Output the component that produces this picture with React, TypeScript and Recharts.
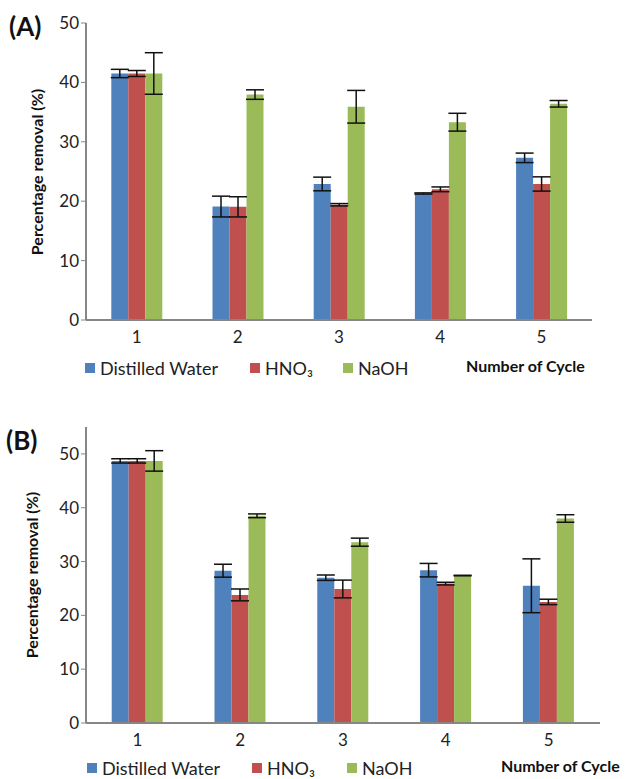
import React from 'react';
import { BarChart, Bar, XAxis, YAxis, ErrorBar, Legend } from 'recharts';

const FONT = 'Lato, "Open Sans", sans-serif';

const cycles = ['1', '2', '3', '4', '5'];

// panel (A)
const waterA = [41.5, 19.1, 22.9, 21.3, 27.3];
const waterErrA = [0.7, 1.75, 1.15, 0.1, 0.8];
const hno3A = [41.5, 19.05, 19.4, 22.0, 22.9];
const hno3ErrA = [0.5, 1.7, 0.2, 0.4, 1.2];
const naohA = [41.5, 37.95, 35.9, 33.3, 36.4];
const naohErrA = [3.5, 0.8, 2.75, 1.5, 0.55];
const ticksA = [0, 10, 20, 30, 40, 50];

// panel (B)
const waterB = [48.7, 28.3, 27.0, 28.4, 25.5];
const waterErrB = [0.4, 1.2, 0.5, 1.25, 5.0];
const hno3B = [48.7, 23.8, 24.9, 25.9, 22.5];
const hno3ErrB = [0.4, 1.1, 1.65, 0.25, 0.5];
const naohB = [48.7, 38.5, 33.6, 27.4, 38.0];
const naohErrB = [1.9, 0.35, 0.75, 0.05, 0.7];
const ticksB = [0, 10, 20, 30, 40, 50];

const build = (
  water: number[], waterErr: number[],
  hno3: number[], hno3Err: number[],
  naoh: number[], naohErr: number[],
) =>
  cycles.map((cycle, i) => ({
    cycle,
    water: water[i],
    waterErr: waterErr[i],
    hno3: hno3[i],
    hno3Err: hno3Err[i],
    naoh: naoh[i],
    naohErr: naohErr[i],
  }));

const dataA = build(waterA, waterErrA, hno3A, hno3ErrA, naohA, naohErrA);
const dataB = build(waterB, waterErrB, hno3B, hno3ErrB, naohB, naohErrB);

interface PanelProps {
  data: ReturnType<typeof build>;
  top: number;
  height: number;
  plotTop: number;
  plotBottom: number;
  right: number;
  domain: [number, number];
  ticks: number[];
  tag: string;
  tagPos: { x: number; y: number };
  labelX: number;
  legendY: number;
  legendXs: number[];
  cycleX: number;
}

// x axis takes 30px and the legend 20px below the plot
const AXIS_H = 30;
const LEGEND_H = 20;

const Panel = ({ data, top, height, plotTop, plotBottom, right, domain, ticks, tag, tagPos, labelX, legendY, legendXs, cycleX }: PanelProps) => {
  const margin = { top: plotTop, right, bottom: height - plotBottom - AXIS_H - LEGEND_H, left: 36 };
  const plotMid = (plotTop + plotBottom) / 2;
  const errProps = { width: 9, strokeWidth: 1.5, stroke: '#111' };
  return (
    <div style={{ position: 'absolute', left: 0, top, width: 632, height }}>
      <BarChart width={632} height={height} data={data} margin={margin} barCategoryGap="25%" barGap={0}>
        <XAxis
          dataKey="cycle"
          height={AXIS_H}
          axisLine={{ stroke: '#868686', strokeWidth: 2 }}
          tickLine={false}
          tickMargin={5}
          tick={{ fill: '#222', fontSize: 17, fontFamily: FONT }}
        />
        <XAxis xAxisId="top" orientation="top" dataKey="cycle" height={0} tick={false} tickLine={false}
          axisLine={{ stroke: '#d9d9d9', strokeWidth: 1.5 }} />
        <YAxis
          domain={domain}
          ticks={ticks}
          width={50}
          tickSize={5}
          axisLine={{ stroke: '#868686', strokeWidth: 2 }}
          tickLine={{ stroke: '#868686' }}
          tick={{ fill: '#222', fontSize: 17, fontFamily: FONT }}
        />
        <YAxis yAxisId="right" orientation="right" width={0} tick={false} tickLine={false}
          axisLine={{ stroke: '#d9d9d9', strokeWidth: 1.5 }} />
        <Bar dataKey="water" name="Distilled Water" fill="#4F81BD" isAnimationActive={false}>
          <ErrorBar dataKey="waterErr" direction="y" {...errProps} />
        </Bar>
        <Bar dataKey="hno3" name="HNO₃" fill="#C0504D" isAnimationActive={false}>
          <ErrorBar dataKey="hno3Err" direction="y" {...errProps} />
        </Bar>
        <Bar dataKey="naoh" name="NaOH" fill="#9BBB59" isAnimationActive={false}>
          <ErrorBar dataKey="naohErr" direction="y" {...errProps} />
        </Bar>
        <Legend
          height={LEGEND_H}
          wrapperStyle={{ position: 'absolute', left: 0, top: legendY - 10, bottom: 'auto', width: 632, height: LEGEND_H }}
          content={(props: any) => (
            <div style={{ position: 'relative', height: LEGEND_H, fontFamily: FONT, fontSize: 18, color: '#222' }}>
              {(props.payload || []).map((p: any, i: number) => (
                <div key={p.value} style={{ position: 'absolute', left: legendXs[i], top: 0, height: LEGEND_H, display: 'flex', alignItems: 'center', whiteSpace: 'nowrap' }}>
                  <span style={{ display: 'inline-block', width: 10, height: 10, background: p.color, marginRight: 5 }} />
                  <span>{p.value}</span>
                </div>
              ))}
            </div>
          )}
        />
      </BarChart>
      <div style={{ position: 'absolute', left: tagPos.x, top: tagPos.y, fontFamily: FONT, fontWeight: 700, fontSize: 26, lineHeight: '28px', color: '#111' }}>
        {tag}
      </div>
      <div style={{
        position: 'absolute', left: labelX, top: plotMid, transform: 'translate(-50%, -50%) rotate(-90deg)',
        fontFamily: FONT, fontWeight: 700, fontSize: 16, whiteSpace: 'nowrap', color: '#111',
      }}>
        Percentage removal (%)
      </div>
      <div style={{ position: 'absolute', left: cycleX, top: legendY - 12, fontFamily: FONT, fontWeight: 700, fontSize: 16, whiteSpace: 'nowrap', color: '#111' }}>
        Number of Cycle
      </div>
    </div>
  );
};

export default function App() {
  return (
    <div style={{ position: 'absolute', left: 0, top: 0, width: 632, height: 779, background: '#fff', overflow: 'hidden' }}>
      <Panel
        data={dataA}
        top={0}
        height={390}
        plotTop={23}
        plotBottom={320}
        right={40}
        domain={[0, 50]}
        ticks={ticksA}
        tag="(A)"
        tagPos={{ x: 9, y: 12 }}
        labelX={36}
        legendY={368}
        legendXs={[85, 250, 343]}
        cycleX={466}
      />
      <Panel
        data={dataB}
        top={390}
        height={389}
        plotTop={37}
        plotBottom={333}
        right={32}
        domain={[0, 55]}
        ticks={ticksB}
        tag="(B)"
        tagPos={{ x: 6, y: 36 }}
        labelX={31}
        legendY={378}
        legendXs={[87, 252, 347]}
        cycleX={501}
      />
    </div>
  );
}
